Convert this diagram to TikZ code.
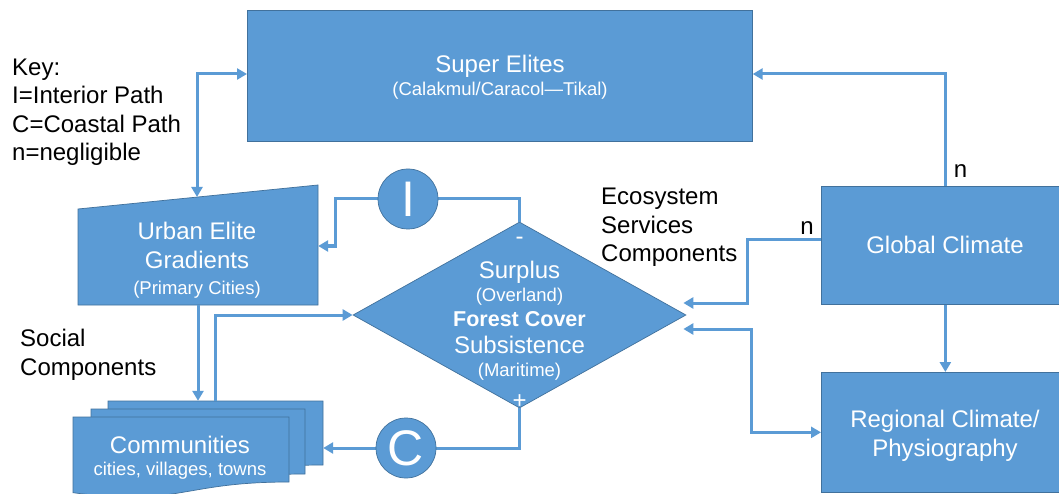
\documentclass[tikz,border=0pt]{standalone}
\usepackage{fontspec}
\setmainfont{Liberation Sans}
\usetikzlibrary{arrows.meta,shapes.geometric}
\definecolor{fillblue}{HTML}{5B9BD5}
\definecolor{edgeblue}{HTML}{41719C}
\begin{document}
\begin{tikzpicture}[x=1pt,y=-1pt,
 box/.style={fill=fillblue,draw=edgeblue,line width=0.7pt},
 ghost/.style={draw=none,fill=none,inner sep=0pt},
 conn/.style={draw=fillblue,line width=3pt,-{Triangle[length=10pt,width=11pt]}},
 biconn/.style={draw=fillblue,line width=3pt,{Triangle[length=10pt,width=11pt]}-{Triangle[length=10pt,width=11pt]}},
 plain/.style={draw=fillblue,line width=3pt},
 wtxt/.style={text=white,font=\fontsize{24}{28}\selectfont,inner sep=0pt,anchor=base},
 wsmall/.style={text=white,font=\fontsize{18.5}{22}\selectfont,inner sep=0pt,anchor=base},
 btxt/.style={text=black,font=\fontsize{24}{28}\selectfont,inner sep=0pt,anchor=base west},
 circ/.style={circle,fill=fillblue,draw=edgeblue,line width=0.7pt,minimum size=60pt,inner sep=0pt,text=white,font=\fontsize{50}{50}\selectfont}]
\useasboundingbox (0,0) rectangle (1059,494);
\fill[white] (0,0) rectangle (1059,494);

% boxes
\node[box,minimum width=505pt,minimum height=131pt,anchor=north west,inner sep=0pt] (super) at (247,10) {};
\node[box,minimum width=248pt,minimum height=118pt,anchor=north west,inner sep=0pt] (glob) at (821,186) {};
\node[box,minimum width=248pt,minimum height=120pt,anchor=north west,inner sep=0pt] (reg) at (821,372) {};
\node[diamond,box,minimum width=333pt,minimum height=186pt,inner sep=0pt] (diam) at (519.5,315) {};

% urban elite trapezoid
\path[box] (78,209) -- (318,185) -- (318,305) -- (78,305) -- cycle;
\node[ghost,minimum width=240pt,minimum height=96pt] (urban) at (198,257) {};
\coordinate (urbTop) at (197,197);

% communities stack
\path[box] (108,401) -- (323,401) -- (323,465) .. controls (215.5,465) and (215.5,489.3) .. (108,475.5) -- cycle;
\path[box] (91,409) -- (305,409) -- (305,474) .. controls (198,474) and (198,498.7) .. (91,484.7) -- cycle;
\path[box] (73,417) -- (289,417) -- (289,482) .. controls (181,482) and (181,506.7) .. (73,492.7) -- cycle;
\node[ghost,minimum width=215pt,minimum height=64pt] (comm) at (215.5,433) {};

% connectors
\draw[biconn] (super.west |- 0,74) -| (urbTop);
\draw[plain] (diam.north) |- (408,199);
\draw[conn] (378,199) -| ([xshift=17pt,yshift=11pt]urban.east) -- ([yshift=11pt]urban.east);
\draw[plain] (diam.south) |- (406,448);
\draw[conn] (376,448) -- (376,448 -| comm.east);
\draw[conn] (urban.south) -- (urban.south |- comm.north);
\draw[conn] (comm.north) |- (diam.west);
\draw[conn] (glob.north) |- (super.east |- 0,74);
\draw[conn] ([yshift=6pt]glob.west) -- ++(-74,0) |- ([xshift=-3pt,yshift=12pt]diam.east);
\draw[biconn] ([xshift=-3pt,yshift=-14pt]diam.east) -- ++(68,0) |- (reg.west);
\draw[conn] (glob.south) -- (reg.north);

% circles
\node[circ] (icirc) at (408,199) {I};
\node[circ] (ccirc) at (406,448) {C};

% texts
\node[wtxt] (t1) at (500,73) {Super Elites};
\node[wsmall] (t2) at (500,96) {(Calakmul/Caracol—Tikal)};
\node[btxt] (k1) at (12,75.5) {Key:};
\node[btxt] (k2) at (12,103.5) {I=Interior Path};
\node[btxt] (k3) at (12,132.5) {C=Coastal Path};
\node[btxt] (k4) at (12,160.5) {n=negligible};
\node[wtxt] (u1) at (197,239.5) {Urban Elite};
\node[wtxt] (u2) at (197,268.5) {Gradients};
\node[wsmall] (u3) at (197,294) {(Primary Cities)};
\node[wtxt] (d0) at (519.5,244) {-};
\node[wtxt] (d1) at (519.5,278.5) {Surplus};
\node[wsmall] (d2) at (519.5,301) {(Overland)};
\node[wtxt,font=\fontsize{21.5}{26}\selectfont\bfseries] (d3) at (519.5,326.5) {Forest Cover};
\node[wtxt] (d4) at (519.5,353.5) {Subsistence};
\node[wsmall] (d5) at (519.5,376) {(Maritime)};
\node[wtxt] (d6) at (519.5,408) {+};
\node[wtxt] (c1) at (180,453.5) {Communities};
\node[wsmall] (c2) at (180,475) {cities, villages, towns};
\node[wtxt] (g1) at (945,253.5) {Global Climate};
\node[wtxt] (r1) at (945,427) {Regional Climate/};
\node[wtxt] (r2) at (945,456) {Physiography};
\node[btxt] (s1) at (20,346.5) {Social};
\node[btxt] (s2) at (20,375.5) {Components};
\node[btxt] (e1) at (601,204.5) {Ecosystem};
\node[btxt] (e2) at (601,233.5) {Services};
\node[btxt] (e3) at (601,261.5) {Components};
\node[btxt,anchor=base] (n1) at (960.5,178) {n};
\node[btxt,anchor=base] (n2) at (807,235) {n};
\end{tikzpicture}
\end{document}
